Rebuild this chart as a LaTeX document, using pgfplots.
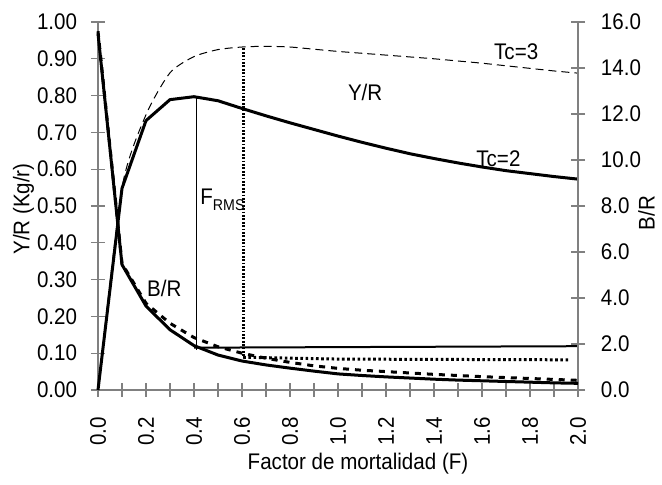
\documentclass[border=0pt]{standalone}
\usepackage{fontspec}
\setmainfont[FakeStretch=0.91]{Liberation Sans}
\usepackage{pgfplots}
\usepackage{pgfplotstable}
\pgfplotsset{compat=1.18}
\definecolor{axisgray}{RGB}{128,128,128}

% Yield per recruit (left axis)
\pgfplotstableread{
F     tc2    tc3
0.0   0.000  0.000
0.1   0.548  0.550
0.2   0.732  0.748
0.3   0.789  0.862
0.4   0.797  0.906
0.5   0.786  0.925
0.6   0.765  0.932
0.7   0.745  0.934
0.8   0.726  0.932
0.9   0.708  0.926
1.0   0.690  0.920
1.1   0.673  0.915
1.2   0.657  0.910
1.3   0.642  0.905
1.4   0.629  0.900
1.5   0.617  0.894
1.6   0.606  0.888
1.7   0.596  0.881
1.8   0.588  0.874
1.9   0.580  0.867
2.0   0.573  0.861
}\yrtable

% Biomass per recruit (right axis)
\pgfplotstableread{
F     tc2    tc3
0.0   15.50  15.60
0.1   5.45   5.50
0.2   3.65   3.77
0.3   2.62   2.90
0.4   1.93   2.28
0.5   1.52   1.88
0.6   1.26   1.60
0.7   1.09   1.38
0.8   0.95   1.20
0.9   0.82   1.05
1.0   0.70   0.94
1.1   0.63   0.86
1.2   0.57   0.80
1.3   0.52   0.74
1.4   0.47   0.68
1.5   0.43   0.63
1.6   0.40   0.58
1.7   0.37   0.54
1.8   0.34   0.50
1.9   0.31   0.46
2.0   0.29   0.42
}\brtable

\begin{document}
\fontsize{11.3}{13.5}\selectfont
\begin{tikzpicture}
\pgfplotsset{
  base/.style={
    at={(0,0)}, anchor=south west,
    scale only axis, width=240pt, height=184pt,
    xmin=0, xmax=2, clip=false,
    tick align=center, major tick length=7pt, minor tick length=7pt,
    axis line style={axisgray, line width=0.6pt, -},
    every tick/.style={axisgray, line width=0.6pt},
    minor tick style={axisgray, line width=0.6pt},
    tick label style={font=\fontsize{11.3}{13}\selectfont},
    label style={font=\fontsize{11.3}{13}\selectfont},
    /pgf/number format/assume math mode=true,
  },
  curve/.style={black, line width=1.5pt, line join=round},
  hdots/.style={black, line width=1.5pt, dash pattern=on 1.3pt off 1.3pt},
  vdots/.style={black, line width=1.3pt, dash pattern=on 0.9pt off 0.8pt},
}
\begin{axis}[base,
  ymin=0, ymax=1,
  axis x line*=bottom, axis y line*=left,
  xtick={0,0.2,0.4,0.6,0.8,1.0,1.2,1.4,1.6,1.8,2.0},
  minor x tick num=1,
  xticklabel style={rotate=90, anchor=east, xshift=-6pt,
    /pgf/number format/.cd, fixed, fixed zerofill, precision=1},
  ytick={0,0.1,0.2,0.3,0.4,0.5,0.6,0.7,0.8,0.9,1.0},
  yticklabel style={xshift=-3pt,
    /pgf/number format/.cd, fixed, fixed zerofill, precision=2},
  xlabel={Factor de mortalidad (F)},
  x label style={at={(axis description cs:0.5417,0)}, anchor=base, yshift=-40pt},
  ylabel={Y/R (Kg/r)},
  y label style={at={(axis description cs:-0.155,0.4918)}, anchor=center},
]
  % Y/R curves
  \addplot[curve] table[x=F, y=tc2] {\yrtable};
  \addplot[black, line width=0.5pt, smooth, tension=0.4, dash pattern=on 4pt off 2.5pt] table[x=F, y=tc3] {\yrtable};
  % reference lines
  \addplot[black, line width=0.6pt] coordinates {(0.41,0.797) (0.41,0.110)};
  \addplot[vdots] coordinates {(0.605,0.928) (0.605,0.089)};
  \addplot[black, line width=1.0pt] coordinates {(0.40,0.115) (2.0,0.119)};
  \addplot[hdots] coordinates {(0.605,0.089) (1.0,0.084) (1.96,0.082)};
  % annotations
  \node[anchor=base west, inner sep=0pt] at (axis cs:1.649,0.897) {Tc=3};
  \node[anchor=base west, inner sep=0pt] at (axis cs:1.040,0.788) {Y/R};
  \node[anchor=base west, inner sep=0pt] at (axis cs:1.575,0.607) {Tc=2};
  \node[anchor=base west, inner sep=0pt] at (axis cs:0.203,0.255) {B/R};
  \node[anchor=base west, inner sep=0pt] at (axis cs:0.425,0.505)
    {F\raisebox{-3pt}{\fontsize{7.8}{9}\selectfont RMS}};
\end{axis}
\begin{axis}[base,
  ymin=0, ymax=16,
  axis x line=none, axis y line*=right,
  ytick={0,2,4,6,8,10,12,14,16},
  yticklabel style={xshift=4pt,
    /pgf/number format/.cd, fixed, fixed zerofill, precision=1},
  ylabel={B/R},
  y label style={at={(axis description cs:1.1427,0.481)}, anchor=center},
]
  \addplot[curve] table[x=F, y=tc2] {\brtable};
  \addplot[curve, dash pattern=on 3pt off 3pt] table[x=F, y=tc3] {\brtable};
\end{axis}
\pgfresetboundingbox
\path[use as bounding box] (-49pt,-47.5pt) rectangle (282pt,195pt);
\end{tikzpicture}
\end{document}
